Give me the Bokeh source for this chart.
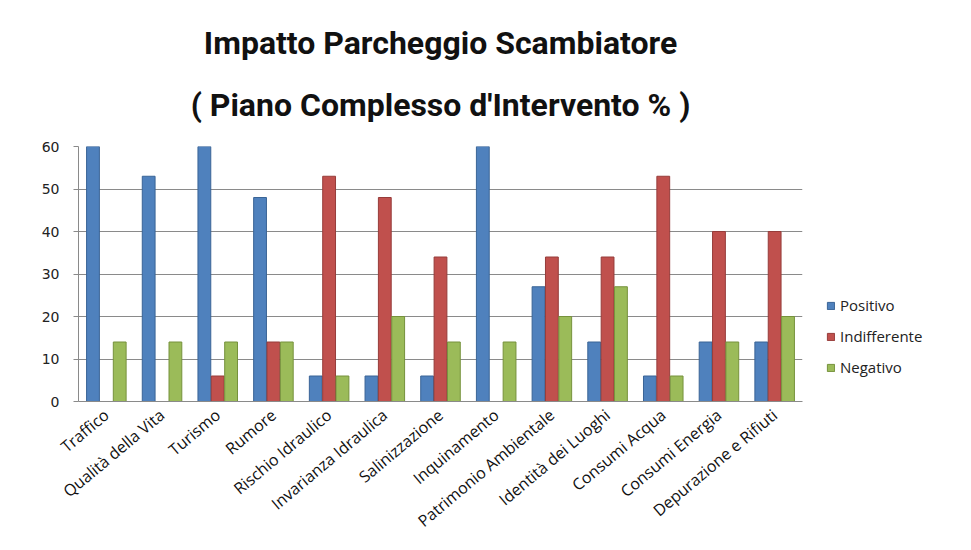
import math
from bokeh.plotting import figure
from bokeh.models import ColumnDataSource, FactorRange, Legend, LegendItem, Title, FixedTicker
from bokeh.transform import dodge
from bokeh.embed import file_html
from bokeh.resources import INLINE

categories = ["Traffico", "Qualità della Vita", "Turismo", "Rumore", "Rischio Idraulico",
              "Invarianza Idraulica", "Salinizzazione", "Inquinamento", "Patrimonio Ambientale",
              "Identità dei Luoghi", "Consumi Acqua", "Consumi Energia", "Depurazione e Rifiuti"]
positivo = [60, 53, 60, 48, 6, 6, 6, 60, 27, 14, 6, 14, 14]
indifferente = [0, 0, 6, 14, 53, 48, 34, 0, 34, 34, 53, 40, 40]
negativo = [14, 14, 14, 14, 6, 20, 14, 14, 20, 27, 6, 14, 20]
series = ["Positivo", "Indifferente", "Negativo"]
colors = ["#4F81BD", "#C0504D", "#9BBB59"]
edge_colors = ["#3A6496", "#963C3A", "#76923C"]
y_ticks = [0, 10, 20, 30, 40, 50, 60]
title_text = "Impatto Parcheggio Scambiatore"
subtitle_text = "( Piano Complesso d'Intervento % )"

src = ColumnDataSource(dict(cat=categories, Positivo=positivo,
                            Indifferente=indifferente, Negativo=negativo))

p = figure(x_range=FactorRange(*categories), y_range=(0, 60),
           frame_width=724, frame_height=255, output_backend="svg", toolbar_location=None,
           min_border_left=78, min_border_right=155, min_border_bottom=140,
           min_border_top=146)

offsets = [-0.24, 0.0, 0.24]
renderers = []
for s, c, ec, off in zip(series, colors, edge_colors, offsets):
    r = p.vbar(x=dodge("cat", off, range=p.x_range), top=s, width=0.23, source=src,
               fill_color=c, line_color=ec, line_width=1)
    renderers.append(r)

p.add_layout(Title(text=subtitle_text, align="center", text_font="Roboto",
                   text_font_size="32px", text_font_style="bold", text_color="#111111",
                   standoff=45, offset=12), "above")
p.add_layout(Title(text=title_text, align="center", text_font="Roboto",
                   text_font_size="32px", text_font_style="bold", text_color="#111111",
                   standoff=0, offset=10), "above")

legend = Legend(items=[LegendItem(label=s, renderers=[r]) for s, r in zip(series, renderers)],
                location="bottom_left", margin=14, glyph_width=9, glyph_height=9,
                label_height=20, spacing=11, label_text_font="Open Sans",
                label_text_font_size="15px", label_text_color="#222222",
                border_line_alpha=0, background_fill_alpha=0)
p.add_layout(legend, "right")

p.yaxis.ticker = FixedTicker(ticks=y_ticks)
p.yaxis.major_label_text_font = "DejaVu Sans"
p.yaxis.major_label_text_font_size = "14px"
p.yaxis.major_label_text_color = "#222222"
p.yaxis.major_label_standoff = 14
p.yaxis.axis_line_color = "#8a8a8a"
p.yaxis.major_tick_line_color = "#8a8a8a"
p.yaxis.major_tick_out = 5
p.yaxis.major_tick_in = 0
p.yaxis.minor_tick_line_color = None

p.xaxis.major_label_orientation = math.radians(40)
p.xaxis.major_label_text_font = "Open Sans"
p.xaxis.major_label_text_font_size = "16px"
p.xaxis.major_label_text_color = "#111111"
p.xaxis.axis_line_color = "#8a8a8a"
p.xaxis.major_tick_line_color = None

p.xgrid.grid_line_color = None
p.ygrid.grid_line_color = "#8a8a8a"
p.ygrid.grid_line_width = 1
p.outline_line_color = None
p.background_fill_color = "white"
p.border_fill_color = "white"

open("out.html", "w").write(file_html(p, INLINE))
